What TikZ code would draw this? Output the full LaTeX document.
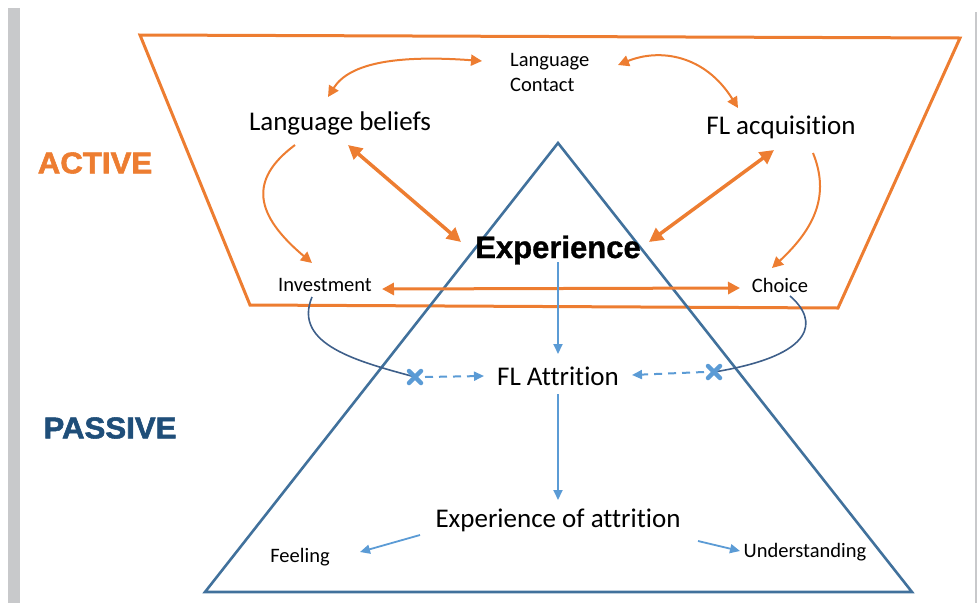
\documentclass[tikz,border=0pt]{standalone}
\usepackage{fontspec}
\setmainfont{Carlito}[Ligatures={NoCommon,NoRequired,NoContextual}]
\newfontfamily\headfont{Liberation Sans}[BoldFeatures={FakeBold=1.8}]
\newfontfamily\expfont{Liberation Sans}[BoldFeatures={FakeBold=1.0}]
\usetikzlibrary{arrows.meta}
\definecolor{actorange}{HTML}{ED7D31}
\definecolor{tripblue}{HTML}{41719C}
\definecolor{flowblue}{HTML}{5B9BD5}
\definecolor{linkblue}{HTML}{3E5F8A}
\definecolor{passblue}{HTML}{1F4E79}
\definecolor{railgray}{HTML}{C8C9CB}
\tikzset{
  lbl/.style={inner sep=0pt, text=black},
  big/.style={lbl, font=\fontsize{27}{30}\selectfont},
  small/.style={lbl, font=\fontsize{20.5}{25}\selectfont},
  heading/.style={inner sep=0pt, font=\headfont\bfseries\fontsize{30}{32}\selectfont, xscale=1.04},
  thin arrow/.style={draw=actorange, line width=2pt,
    arrows={-Triangle[length=11pt,width=11pt]}},
  thin both/.style={thin arrow, arrows={Triangle[length=11pt,width=11pt]-Triangle[length=11pt,width=11pt]}},
  thick both/.style={draw=actorange, line width=3.5pt,
    arrows={Triangle[length=14pt,width=14pt]-Triangle[length=14pt,width=14pt]}},
  mid both/.style={draw=actorange, line width=3pt,
    arrows={Triangle[length=12pt,width=12pt]-Triangle[length=12pt,width=12pt]}},
  down arrow/.style={draw=flowblue, line width=1.8pt,
    arrows={-Triangle[length=10pt,width=9pt]}},
  dash arrow/.style={down arrow, line width=2pt, dash pattern=on 8pt off 6pt},
  link/.style={draw=linkblue, line width=1.6pt},
  cross/.style={draw=flowblue, line width=4.5pt, line cap=round},
}
\begin{document}
\begin{tikzpicture}[x=1pt,y=-1pt]
  \useasboundingbox (0,0) rectangle (980,603);
  % page rails
  \fill[railgray] (8,8) rectangle (20,603);
  \draw[railgray, line width=1.5pt] (976,12) -- (976,603);

  % the two regions
  \draw[actorange, line width=3pt, line join=miter]
    (140,35) -- (960,38) -- (838,308) -- (250,305) -- cycle;
  \draw[tripblue, line width=2.6pt, line join=miter]
    (558,143) -- (912,592) -- (205,592) -- cycle;

  % side headings
  \node[heading, text=actorange] (active) at (95,163) {ACTIVE};
  \node[heading, text=passblue] (passive) at (110,428) {PASSIVE};

  % labels
  \node[small, align=left, anchor=north west] (contact) at (510,53) {Language\\Contact};
  \node[big] (beliefs) at (340,123) {Language beliefs};
  \node[big] (acq) at (781,127) {FL acquisition};
  \node[lbl, font=\expfont\bfseries\fontsize{31}{34}\selectfont] (exp) at (558,250) {Experience};
  \node[small] (invest) at (325,285) {Investment};
  \node[small] (choice) at (780,285) {Choice};
  \node[big] (attr) at (558,376) {FL Attrition};
  \node[big] (expatt) at (558,520) {Experience of attrition};
  \node[small] (feel) at (300,557) {Feeling};
  \node[small] (under) at (805,552) {Understanding};

  % connector end points
  \coordinate (b-top) at (328,97);
  \coordinate (c-left) at (482,61);
  \coordinate (c-right) at (618,65);
  \coordinate (a-top) at (738,108);
  \coordinate (b-low) at (295,145);
  \coordinate (i-top) at (312,263);
  \coordinate (a-low) at (813,153);
  \coordinate (ch-top) at (772,268);
  \coordinate (b-exp) at (348,145);
  \coordinate (exp-b) at (461,242);
  \coordinate (a-exp) at (774,150);
  \coordinate (exp-a) at (649,242);
  \coordinate (i-right) at (382,289);
  \coordinate (ch-left) at (740,288);
  \coordinate (exp-low) at (558,262);
  \coordinate (attr-top) at (558,354);
  \coordinate (attr-low) at (558,394);
  \coordinate (ea-top) at (558,500);
  \coordinate (ea-left) at (420,535);
  \coordinate (feel-tip) at (360,552);
  \coordinate (ea-right) at (698,541);
  \coordinate (under-tip) at (740,551);
  \coordinate (invest-low) at (312,297);
  \coordinate (choice-low) at (790,296);
  \coordinate (xl) at (415,377);
  \coordinate (xr) at (714,372);
  \coordinate (attr-left) at (484,376);
  \coordinate (attr-right) at (632,375);

  % orange links in the active region
  \draw[thin both] (b-top) .. controls (350,62) and (400,55) .. (c-left);
  \draw[thin both] (c-right) .. controls (660,48) and (705,55) .. (a-top);
  \draw[thin arrow] (b-low) .. controls (248,180) and (255,215) .. (i-top);
  \draw[thin arrow] (a-low) .. controls (830,195) and (815,228) .. (ch-top);
  \draw[thick both] (b-exp) -- (exp-b);
  \draw[thick both] (a-exp) -- (exp-a);
  \draw[mid both] (i-right) -- (ch-left);

  % flow through the passive region
  \draw[down arrow] (exp-low) -- (attr-top);
  \draw[down arrow] (attr-low) -- (ea-top);
  \draw[down arrow] (ea-left) -- (feel-tip);
  \draw[down arrow] (ea-right) -- (under-tip);

  % blocked links to attrition
  \draw[link] (invest-low) .. controls (292,345) and (360,362) .. (xl);
  \draw[link] (choice-low) .. controls (818,320) and (818,355) .. (xr);
  \draw[dash arrow] ([xshift=10pt]xl) -- (attr-left);
  \draw[dash arrow] ([xshift=-10pt]xr) -- (attr-right);
  \foreach \c in {xl,xr}{
    \draw[cross] ([shift={(-6,-6)}]\c) -- ([shift={(6,6)}]\c);
    \draw[cross] ([shift={(-6,6)}]\c) -- ([shift={(6,-6)}]\c);
  }
\end{tikzpicture}
\end{document}
